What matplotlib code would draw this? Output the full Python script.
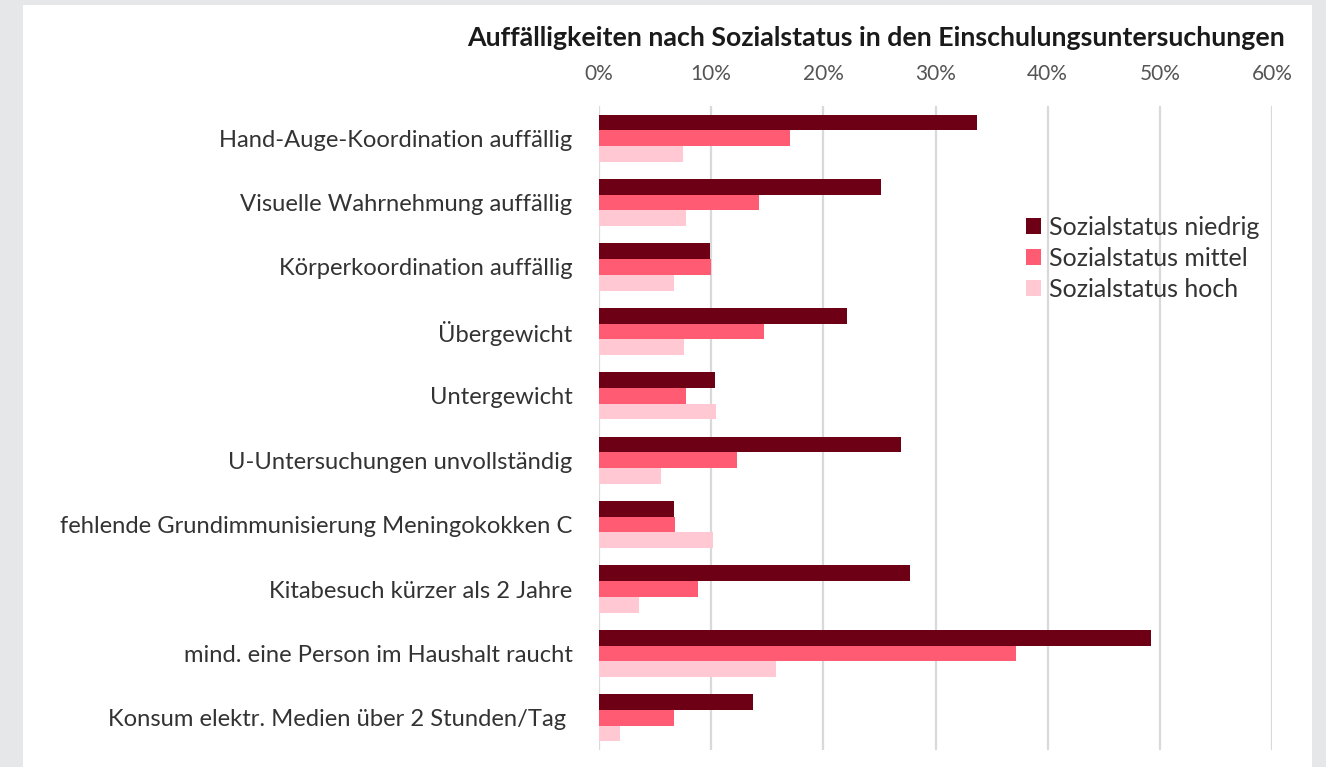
"""Auffälligkeiten nach Sozialstatus in den Einschulungsuntersuchungen."""

import matplotlib

matplotlib.use("Agg")
import matplotlib.pyplot as plt
import numpy as np
from matplotlib.patches import Rectangle
from matplotlib.ticker import FuncFormatter

CATEGORIES = [
    "Hand-Auge-Koordination auffällig",
    "Visuelle Wahrnehmung auffällig",
    "Körperkoordination auffällig",
    "Übergewicht",
    "Untergewicht",
    "U-Untersuchungen unvollständig",
    "fehlende Grundimmunisierung Meningokokken C",
    "Kitabesuch kürzer als 2 Jahre",
    "mind. eine Person im Haushalt raucht",
    "Konsum elektr. Medien über 2 Stunden/Tag ",
]
NIEDRIG = [33.7, 25.1, 9.9, 22.1, 10.3, 26.9, 6.7, 27.7, 49.2, 13.7]
MITTEL = [17.0, 14.3, 10.0, 14.7, 7.8, 12.3, 6.8, 8.8, 37.2, 6.7]
HOCH = [7.5, 7.8, 6.7, 7.6, 10.4, 5.5, 10.2, 3.6, 15.8, 1.9]
SERIES_LABELS = ["Sozialstatus niedrig", "Sozialstatus mittel", "Sozialstatus hoch"]
X_TICKS = [0, 10, 20, 30, 40, 50, 60]

COLORS = ["#6e0015", "#ff5b73", "#ffc8d3"]
TEXT = "#333333"

plt.rcParams["font.family"] = ["Lato", "DejaVu Sans"]

W, H = 1326, 767
fig = plt.figure(figsize=(W / 100, H / 100), dpi=100)
fig.patch.set_facecolor("#e6e7e9")
fig.patches.append(
    Rectangle((23 / W, 0), (1312 - 23) / W, 1 - 5 / H,
              transform=fig.transFigure, facecolor="white", edgecolor="none", zorder=-10)
)

ax = fig.add_axes([599 / W, 1 - 750 / H, (1272 - 599) / W, (750 - 106) / H])
ax.set_facecolor("none")

y = np.arange(len(CATEGORIES))
h = 0.245
for offset, vals, color, label in zip((-h, 0, h), (NIEDRIG, MITTEL, HOCH), COLORS, SERIES_LABELS):
    ax.barh(y + offset, vals, height=h, color=color, label=label, zorder=3)

ax.set_ylim(len(CATEGORIES) - 0.5, -0.5)
ax.set_xlim(0, 60)
ax.set_yticks(y)
ax.set_yticklabels(CATEGORIES, fontsize=17.1, color=TEXT)
ax.set_xticks(X_TICKS)
ax.xaxis.set_major_formatter(FuncFormatter(lambda v, _: f"{v:.0f}%"))
ax.xaxis.tick_top()
ax.tick_params(axis="x", length=0, pad=16, labelsize=15, labelcolor="#555555")
ax.tick_params(axis="y", length=0, pad=19)
ax.grid(axis="x", color="#d9d9d9", linewidth=1.6, zorder=1)
ax.set_axisbelow(True)
for s in ax.spines.values():
    s.set_visible(False)

fig.text(1285 / W, 1 - 38 / H,
         "Auffälligkeiten nach Sozialstatus in den Einschulungsuntersuchungen",
         ha="right", va="center", fontsize=19.3, fontweight="bold", color="#1a1a1a")

ax.legend(loc="upper left", bbox_to_anchor=(1026 / W, 1 - 216 / H),
          bbox_transform=fig.transFigure, frameon=False, fontsize=18,
          handlelength=0.58, handleheight=0.58, handletextpad=0.33,
          labelspacing=0.32, labelcolor=TEXT, borderaxespad=0, borderpad=0)

fig.savefig("out.png", dpi=100)
